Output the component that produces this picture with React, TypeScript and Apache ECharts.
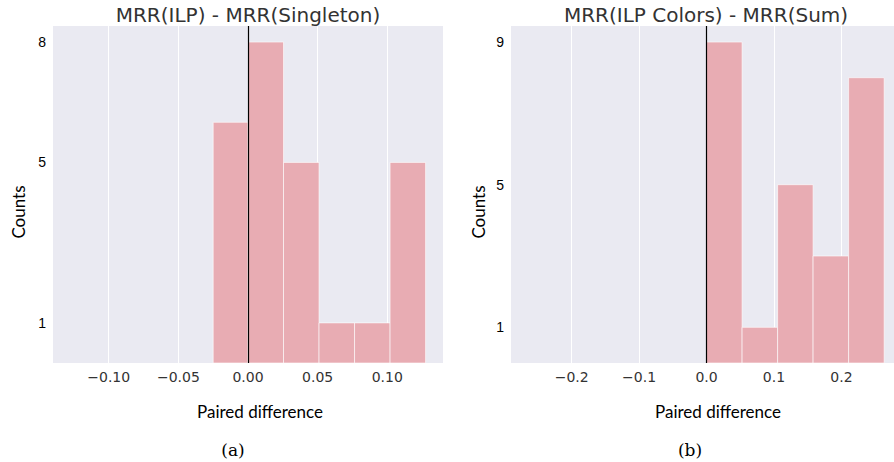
import React, { useEffect, useRef } from "react";
import * as echarts from "echarts";

// Left panel: MRR(ILP) - MRR(Singleton)
const leftTitle = "MRR(ILP) - MRR(Singleton)";
const leftBinEdges = [-0.025, 0.0, 0.0255, 0.051, 0.0765, 0.102, 0.1275];
const leftCounts = [6, 8, 5, 1, 1, 5];
const leftXTicks = [-0.1, -0.05, 0.0, 0.05, 0.1];
const leftYTicks = [1, 5, 8];
const leftXRange = [-0.14, 0.14];
const leftYMax = 8.4;

// Right panel: MRR(ILP Colors) - MRR(Sum)
const rightTitle = "MRR(ILP Colors) - MRR(Sum)";
const rightBinEdges = [0.0, 0.0527, 0.1054, 0.158, 0.2107, 0.2634];
const rightCounts = [9, 1, 5, 3, 8];
const rightXTicks = [-0.2, -0.1, 0.0, 0.1, 0.2];
const rightYTicks = [1, 5, 9];
const rightXRange = [-0.29, 0.278];
const rightYMax = 9.45;

const xName = "Paired difference";
const yName = "Counts";
const captions = ["(a)", "(b)"];

const BAR = "#E8ACB3";
const BG = "#EAEAF2";

function fmtTick(v: number, d: number) {
  const s = Math.abs(v).toFixed(d);
  return v < -1e-9 ? "\u2212" + s : s;
}

function binsData(edges: number[], counts: number[]) {
  return counts.map((c, i) => [edges[i], edges[i + 1], c]);
}

export default function App() {
  const ref = useRef<HTMLDivElement>(null);
  useEffect(() => {
    document.body.style.margin = "0";
    const chart = echarts.init(ref.current!, null, { renderer: "svg" });

    const renderItem = (params: any, api: any) => {
      const p0 = api.coord([api.value(0), api.value(2)]);
      const p1 = api.coord([api.value(1), 0]);
      return {
        type: "rect",
        shape: { x: p0[0], y: p0[1], width: p1[0] - p0[0], height: p1[1] - p0[1] },
        style: { fill: BAR, stroke: "rgba(255,255,255,0.6)", lineWidth: 1 },
      };
    };

    const grids = [
      { left: 53, top: 26, width: 390, height: 337 },
      { left: 511, top: 26, width: 383, height: 337 },
    ];

    const xAxisFor = (idx: number, range: number[], ticks: number[], d: number) => ({
      type: "value",
      gridIndex: idx,
      min: range[0],
      max: range[1],
      splitLine: { show: false },
      axisLine: { show: false },
      axisTick: { show: false, customValues: ticks },
      axisLabel: {
        customValues: ticks,
        formatter: (v: number) => fmtTick(v, d),
        fontFamily: "DejaVu Sans",
        fontSize: 14,
        color: "#333333",
        margin: 7,
      },
    });

    const yAxisFor = (idx: number, max: number, ticks: number[]) => ({
      type: "value",
      gridIndex: idx,
      min: 0,
      max: max,
      splitLine: { show: false },
      axisLine: { show: false },
      axisTick: { show: false, customValues: ticks },
      axisLabel: {
        customValues: ticks,
        formatter: (v: number) => String(Math.round(v)),
        fontFamily: "Liberation Sans",
        fontSize: 14,
        color: "#000000",
        margin: 7,
      },
    });

    const histSeries = (idx: number, edges: number[], counts: number[], ticks: number[]) => ({
      type: "custom",
      xAxisIndex: idx,
      yAxisIndex: idx,
      z: 2,
      renderItem,
      encode: { x: [0, 1], y: 2 },
      data: binsData(edges, counts),
      markLine: {
        z: 1,
        silent: true,
        symbol: "none",
        label: { show: false },
        lineStyle: { color: "#ffffff", width: 1, type: "solid" },
        data: ticks.map((v) => ({ xAxis: v })),
      },
    });

    const zeroSeries = (idx: number) => ({
      type: "line",
      xAxisIndex: idx,
      yAxisIndex: idx,
      data: [],
      markLine: {
        z: 10,
        silent: true,
        symbol: "none",
        label: { show: false },
        lineStyle: { color: "#000000", width: 1.2, type: "solid" },
        data: [{ xAxis: 0 }],
      },
    });

    const txt = (text: string, x: number, y: number, font: string, color: string, rotation = 0) => ({
      type: "text",
      x,
      y,
      rotation,
      style: { text, font, fill: color, align: "center", verticalAlign: "middle" },
    });

    chart.setOption({
      animation: false,
      grid: grids.map((g) => ({ ...g, show: true, backgroundColor: BG, borderWidth: 0 })),
      xAxis: [
        { ...xAxisFor(0, leftXRange, leftXTicks, 2) },
        { ...xAxisFor(1, rightXRange, rightXTicks, 1) },
      ],
      yAxis: [yAxisFor(0, leftYMax, leftYTicks), yAxisFor(1, rightYMax, rightYTicks)],
      series: [
        histSeries(0, leftBinEdges, leftCounts, leftXTicks),
        zeroSeries(0),
        histSeries(1, rightBinEdges, rightCounts, rightXTicks),
        zeroSeries(1),
      ],
      graphic: [
        txt(leftTitle, 248, 15, "20px 'DejaVu Sans'", "#333333"),
        txt(rightTitle, 706, 15, "20px 'DejaVu Sans'", "#333333"),
        txt(xName, 260, 411, "17px Lato", "#000000"),
        txt(xName, 718, 411, "17px Lato", "#000000"),
        txt(yName, 18, 212, "17px Lato", "#000000", Math.PI / 2),
        txt(yName, 478, 212, "17px Lato", "#000000", Math.PI / 2),
        txt(captions[0], 233, 450, "17px 'DejaVu Serif'", "#000000"),
        txt(captions[1], 690, 450, "17px 'DejaVu Serif'", "#000000"),
      ],
    });
    return () => chart.dispose();
  }, []);
  return <div ref={ref} style={{ width: 894, height: 462 }} />;
}
